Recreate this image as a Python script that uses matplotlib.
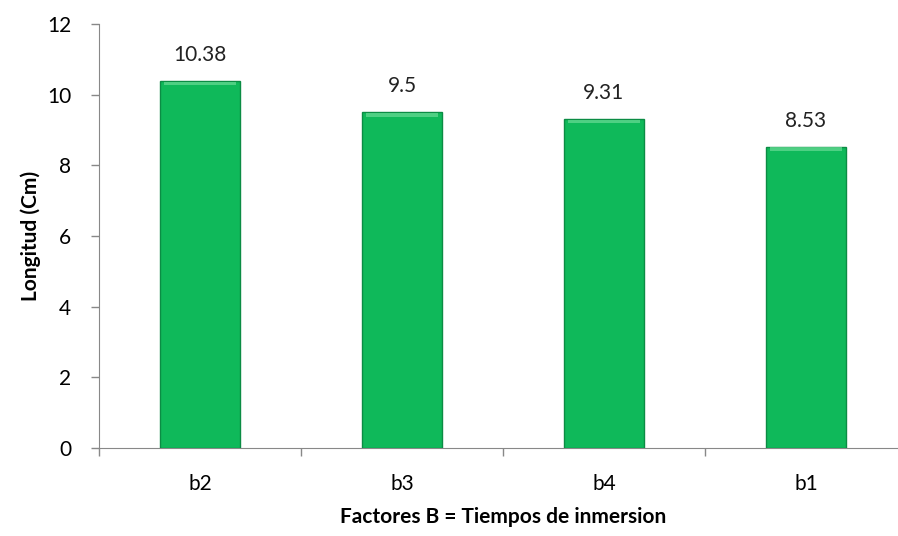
import matplotlib.pyplot as plt
import numpy as np

CATEGORIES = ["b2", "b3", "b4", "b1"]
VALUES = [10.38, 9.5, 9.31, 8.53]
LABELS = ["10.38", "9.5", "9.31", "8.53"]
YTICKS = [0, 2, 4, 6, 8, 10, 12]

BAR_COLOR = "#0fb95a"
EDGE_COLOR = "#0b8c44"
TOP_COLOR = "#5fd68e"

plt.rcParams["font.family"] = ["Lato", "DejaVu Sans"]


def main() -> None:
    fig = plt.figure(figsize=(8.98, 5.36), dpi=100)
    ax = fig.add_axes([99 / 898, 88 / 536, 808 / 898, 424 / 536])

    x = np.arange(len(CATEGORIES))
    vals = np.array(VALUES)
    ax.bar(x, vals, width=0.4, color=BAR_COLOR, edgecolor=EDGE_COLOR, linewidth=1.0, zorder=3)
    # light bevel strip along the top of each bar
    ax.bar(x, np.full_like(vals, 0.1), bottom=vals - 0.12, width=0.36,
           color=TOP_COLOR, linewidth=0, zorder=4, alpha=0.8)

    for xi, v, lab in zip(x, vals, LABELS):
        ax.text(xi, v + 0.45, lab, ha="center", va="bottom", fontsize=15, color="#222222")

    ax.set_xlim(-0.5, len(CATEGORIES) - 0.5)
    ax.set_ylim(0, 12)
    ax.set_yticks(YTICKS)
    ax.set_xticks(x)
    ax.set_xticklabels(CATEGORIES)
    ax.set_xticks(np.arange(len(CATEGORIES) + 1) - 0.5, minor=True)
    ax.tick_params(axis="x", which="major", length=0, pad=19, labelsize=15)
    ax.tick_params(axis="x", which="minor", length=6, color="#888888", width=1)
    ax.tick_params(axis="y", length=6, color="#888888", width=1, labelsize=15, pad=14)

    for side in ["top", "right"]:
        ax.spines[side].set_visible(False)
    for side in ["left", "bottom"]:
        ax.spines[side].set_color("#888888")

    ax.set_ylabel("Longitud (Cm)", fontsize=15, fontweight="bold", labelpad=4)
    ax.set_xlabel("Factores B = Tiempos de inmersion", fontsize=15, fontweight="bold", labelpad=9)

    fig.savefig("out.png", dpi=100)


if __name__ == "__main__":
    main()
